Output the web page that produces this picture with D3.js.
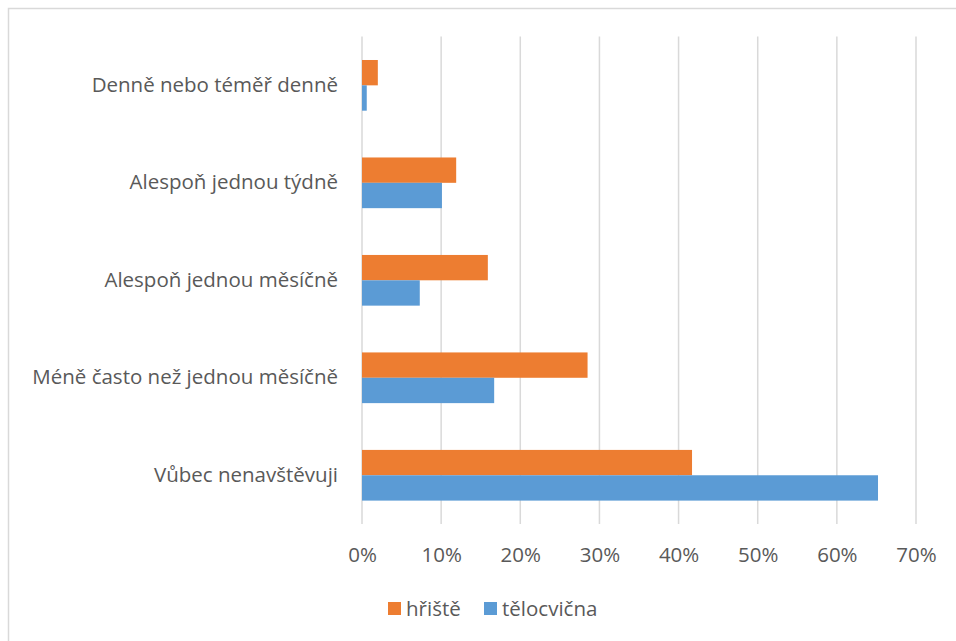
<!DOCTYPE html>
<html>
<head>
<meta charset="utf-8">
<script src="https://cdn.jsdelivr.net/npm/d3@7"></script>
<style>
  html, body { margin: 0; padding: 0; background: #fff; }
  svg { display: block; font-family: "Open Sans", Lato, sans-serif; }
</style>
</head>
<body>
<svg id="chart" width="956" height="641"></svg>
<script>
// Visit frequency categories (top to bottom)
const categories = [
  "Denně nebo téměř denně",
  "Alespoň jednou týdně",
  "Alespoň jednou měsíčně",
  "Méně často než jednou měsíčně",
  "Vůbec nenavštěvuji"
];
const seriesNames = ["hřiště", "tělocvična"];
const hristeValues = [0.020, 0.119, 0.159, 0.285, 0.417];
const telocvicnaValues = [0.006, 0.101, 0.073, 0.167, 0.652];
const xTicks = [0, 0.1, 0.2, 0.3, 0.4, 0.5, 0.6, 0.7];
const colors = ["#ED7D31", "#5B9BD5"];

const svg = d3.select("#chart");
const textColor = "#595959";
const gridColor = "#D9D9D9";
const fontSize = "20.5px";

// Chart frame
svg.append("rect")
  .attr("x", 8.5).attr("y", 8.5)
  .attr("width", 960).attr("height", 650)
  .attr("fill", "none")
  .attr("stroke", gridColor)
  .attr("stroke-width", 1.5);

const plot = { left: 362, right: 916, top: 36.6, bottom: 524 };

const x = d3.scaleLinear().domain([0, 0.7]).range([plot.left, plot.right]);
const y = d3.scaleBand().domain(categories).range([plot.top, plot.bottom]).paddingInner(0.48).paddingOuter(0.24);
const ySub = d3.scaleBand().domain(seriesNames).range([0, y.bandwidth()]);

// Vertical gridlines
svg.append("g").selectAll("line")
  .data(xTicks)
  .join("line")
  .attr("x1", d => x(d)).attr("x2", d => x(d))
  .attr("y1", plot.top).attr("y2", plot.bottom)
  .attr("stroke", gridColor)
  .attr("stroke-width", 1.5);

// Bars
const rows = categories.map((c, i) => ({
  cat: c,
  vals: [hristeValues[i], telocvicnaValues[i]]
}));
const groups = svg.append("g").selectAll("g")
  .data(rows)
  .join("g")
  .attr("transform", d => `translate(0,${y(d.cat)})`);
groups.selectAll("rect")
  .data(d => d.vals.map((v, j) => ({ v, s: seriesNames[j], j })))
  .join("rect")
  .attr("x", x(0))
  .attr("y", d => ySub(d.s))
  .attr("width", d => x(d.v) - x(0))
  .attr("height", ySub.bandwidth())
  .attr("fill", d => colors[d.j]);

// Category labels
const yAxis = d3.axisLeft(y).tickSize(0).tickPadding(24);
const yg = svg.append("g").attr("transform", `translate(${plot.left},0)`).call(yAxis);
yg.select(".domain").remove();
yg.selectAll("text")
  .attr("fill", textColor)
  .style("font-size", fontSize)
  .style("font-family", "'Open Sans', Lato, sans-serif");

// Percentage tick labels
const xAxis = d3.axisBottom(x).tickValues(xTicks).tickFormat(d3.format(".0%")).tickSize(0).tickPadding(23.5);
const xg = svg.append("g").attr("transform", `translate(0,${plot.bottom})`).call(xAxis);
xg.select(".domain").remove();
xg.selectAll("text")
  .attr("fill", textColor)
  .style("font-size", fontSize)
  .style("font-family", "'Open Sans', Lato, sans-serif");

// Legend
const legendItems = [
  { name: seriesNames[0], color: colors[0], x: 388 },
  { name: seriesNames[1], color: colors[1], x: 484 }
];
const lg = svg.append("g").selectAll("g")
  .data(legendItems)
  .join("g")
  .attr("transform", d => `translate(${d.x},602)`);
lg.append("rect")
  .attr("width", 13).attr("height", 13)
  .attr("fill", d => d.color);
lg.append("text")
  .attr("x", 18).attr("y", 14)
  .attr("fill", textColor)
  .style("font-size", fontSize)
  .text(d => d.name);
</script>
</body>
</html>
